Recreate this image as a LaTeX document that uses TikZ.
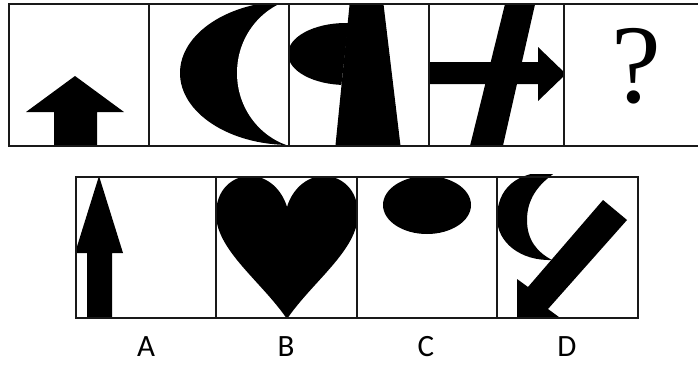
\documentclass[tikz,border=0pt]{standalone}
\usepackage{fontspec}
\setmainfont{Carlito}
\newfontfamily\qfont{Liberation Serif}
\begin{document}
\begin{tikzpicture}[x=1pt,y=-1pt,
  frame/.style={line width=1.5pt, draw=black!90},
  lab/.style={font=\fontsize{31}{32}\selectfont, inner sep=0pt}]
\useasboundingbox (0,0) rectangle (698,364);
% ---------- top row ----------
% cell 1: up arrow
\begin{scope}
\clip (9,4) rectangle (149,146);
\fill (75,76) -- (124,112) -- (97,112) -- (97,150) -- (54,150) -- (54,112) -- (26,112) -- cycle;
\end{scope}
% cell 2: crescent
\begin{scope}
\clip (149,4) rectangle (289,146);
\fill (290,73) ellipse [x radius=110, y radius=72];
\fill[white] (310,73) ellipse [x radius=73, y radius=76];
\end{scope}
% cell 3: half ellipse + trapezoid
\begin{scope}
\clip (289,4) rectangle (429,146);
\begin{scope}
\clip (280,0) -- (351,0) -- (334,150) -- (280,150) -- cycle;
\fill (346,54) ellipse [x radius=58, y radius=31];
\end{scope}
\fill (350,0) -- (383,0) -- (401,150) -- (335,150) -- cycle;
\end{scope}
% cell 4: right arrow + slanted bar
\begin{scope}
\clip (429,4) rectangle (564,146);
\fill (425,62) -- (538,62) -- (538,47) -- (566,74) -- (538,101) -- (538,84) -- (425,84) -- cycle;
\fill (506,0) -- (536,0) -- (502,150) -- (469,150) -- cycle;
\end{scope}
% cell 5: question mark
\node[font=\qfont\fontsize{112}{112}\selectfont, inner sep=0pt] (q) at (636,66) {?};
% frame
\draw[frame] (9,4) rectangle (699,146);
\foreach \x in {149,289,429,564} \draw[frame] (\x,4) -- (\x,146);
% ---------- bottom row ----------
% A: up arrow
\begin{scope}
\clip (76,177) rectangle (216,318);
\fill (99,176) -- (123,253) -- (112,253) -- (112,320) -- (87,320) -- (87,253) -- (75,253) -- cycle;
\end{scope}
% B: heart
\begin{scope}
\clip (216,177) rectangle (357,318);
\fill (287,319) .. controls (262,282) and (216,250) .. (216,214)
  .. controls (216,190) and (232,176) .. (250,176)
  .. controls (268,176) and (282,190) .. (287,207)
  .. controls (292,190) and (306,176) .. (324,176)
  .. controls (342,176) and (358,190) .. (358,214)
  .. controls (358,250) and (312,282) .. (287,319) -- cycle;
\end{scope}
% C: ellipse
\begin{scope}
\clip (357,177) rectangle (497,318);
\fill (427,205) ellipse [x radius=44, y radius=29];
\end{scope}
% D: crescent + diagonal arrow
\begin{scope}
\clip (497,174) rectangle (638,318);
\fill (556,172) .. controls (515,170) and (497,190) .. (497,218)
  .. controls (497,242) and (520,261) .. (552,260)
  .. controls (537,252) and (527,240) .. (527,220)
  .. controls (527,200) and (537,185) .. (556,172) -- cycle;
\fill (603,200) -- (528,287) -- (517,279) -- (517,326) -- (563,320) -- (548,309) -- (627,220) -- cycle;
\end{scope}
\draw[frame] (76,177) rectangle (638,318);
\foreach \x in {216,357,497} \draw[frame] (\x,177) -- (\x,318);
% labels
\node[lab] (la) at (146,347) {A};
\node[lab] (lb) at (286,347) {B};
\node[lab] (lc) at (426,347) {C};
\node[lab] (ld) at (567,347) {D};
\end{tikzpicture}
\end{document}
